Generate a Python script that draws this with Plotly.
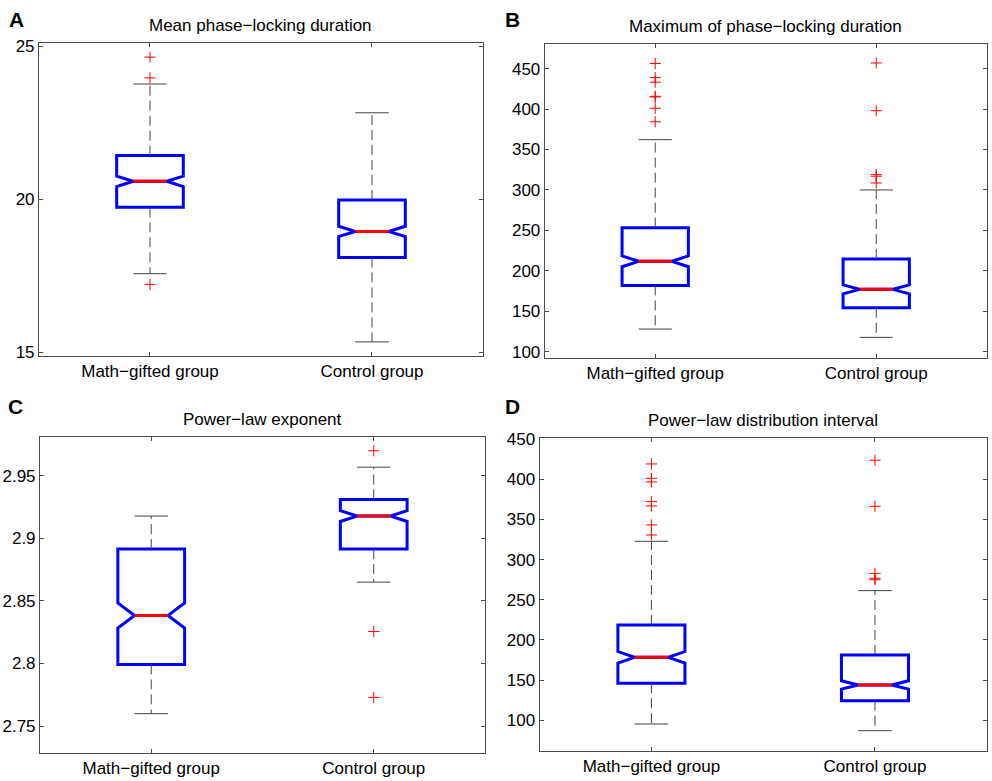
import plotly.graph_objects as go

# groups on the x axis
groups = ["Math−gifted group", "Control group"]
group_pos = [1, 2]

panel_letters = ["A", "B", "C", "D"]
panel_titles = ["Mean phase−locking duration", "Maximum of phase−locking duration",
                "Power−law exponent", "Power−law distribution interval"]

# box statistics per panel, [math-gifted, control]
q1 = [[19.74, 18.10], [182.0, 154.4], [2.7993, 2.8914], [146.1, 124.5]]
median = [[20.59, 18.95], [211.7, 177.1], [2.8384, 2.9178], [178.4, 144.0]]
q3 = [[21.43, 19.98], [253.4, 214.6], [2.8914, 2.9311], [218.7, 181.3]]
notch = [[0.17, 0.17], [6.6, 5.5], [0.0100, 0.0043], [7.2, 5.2]]
lower_whisker = [[17.57, 15.34], [128.0, 117.7], [2.7599, 2.8650], [95.4, 87.1]]
upper_whisker = [[23.77, 22.83], [362.2, 300.0], [2.9178, 2.9569], [322.8, 261.4]]

# outliers per panel, [math-gifted, control]
outliers = [
    [[24.65, 23.97, 17.22], []],
    [[456.3, 438.9, 433.3, 415.8, 415.0, 401.0, 384.3], [457.0, 398.0, 319.0, 317.0, 308.6]],
    [[], [2.9700, 2.8256, 2.7729]],
    [[419.1, 401.2, 396.7, 372.2, 366.8, 343.2, 330.7], [423.7, 366.4, 282.9, 276.8, 275.0]],
]

# y ticks per panel
y_ticks = [
    [15, 20, 25],
    [100, 150, 200, 250, 300, 350, 400, 450],
    [2.75, 2.8, 2.85, 2.9, 2.95],
    [100, 150, 200, 250, 300, 350, 400, 450],
]
y_ranges = [[14.88, 25.11], [92.2, 480.1], [2.7287, 2.9812], [62.2, 451.0]]

# axes placement (paper fractions)
x_domains = [[0.0393, 0.4869], [0.5491, 0.9947], [0.0403, 0.4889], [0.5440, 0.9947]]
y_domains = [[0.5442, 0.9449], [0.5416, 0.9433], [0.0362, 0.4408], [0.0388, 0.4388]]
letter_xy = [[0.007, 0.975], [0.507, 0.975], [0.006, 0.479], [0.507, 0.479]]

BOX_W = 0.3
HALF = BOX_W / 4
FRAME = "#4d4d4d"
FONT = "Liberation Sans, Arial, Helvetica, sans-serif"

fig = go.Figure()

for p in range(4):
    xa = "x" if p == 0 else "x%d" % (p + 1)
    ya = "y" if p == 0 else "y%d" % (p + 1)

    # notched boxes (whiskers drawn separately, MATLAB style)
    fig.add_trace(go.Box(
        x=group_pos, q1=q1[p], median=median[p], q3=q3[p],
        lowerfence=q1[p], upperfence=q3[p], notchspan=notch[p],
        notched=True, notchwidth=0.25, width=BOX_W, whiskerwidth=0,
        line=dict(color="#0000ff", width=3), fillcolor="rgba(0,0,0,0)",
        boxpoints=False, hoverinfo="skip", xaxis=xa, yaxis=ya, showlegend=False))

    # dashed whiskers + caps + red median
    wx, wy = [], []
    cx, cy = [], []
    mx, my = [], []
    for g in range(2):
        pos = group_pos[g]
        wx += [pos, pos, None, pos, pos, None]
        wy += [q3[p][g], upper_whisker[p][g], None, q1[p][g], lower_whisker[p][g], None]
        cx += [pos - HALF, pos + HALF, None, pos - HALF, pos + HALF, None]
        cy += [upper_whisker[p][g], upper_whisker[p][g], None,
               lower_whisker[p][g], lower_whisker[p][g], None]
        mx += [pos - HALF, pos + HALF, None]
        my += [median[p][g], median[p][g], None]
    fig.add_trace(go.Scatter(x=wx, y=wy, mode="lines", xaxis=xa, yaxis=ya,
                             line=dict(color="#444444", width=1, dash="10px,5px"),
                             hoverinfo="skip", showlegend=False))
    fig.add_trace(go.Scatter(x=cx, y=cy, mode="lines", xaxis=xa, yaxis=ya,
                             line=dict(color="#444444", width=1),
                             hoverinfo="skip", showlegend=False))
    fig.add_trace(go.Scatter(x=mx, y=my, mode="lines", xaxis=xa, yaxis=ya,
                             line=dict(color="#ff0000", width=3),
                             hoverinfo="skip", showlegend=False))

    # outliers
    ox, oy = [], []
    for g in range(2):
        ox += [group_pos[g]] * len(outliers[p][g])
        oy += outliers[p][g]
    fig.add_trace(go.Scatter(x=ox, y=oy, mode="markers", xaxis=xa, yaxis=ya,
                             marker=dict(symbol="cross-thin-open", size=8, color="#ff0000",
                                         line=dict(color="#ff0000", width=1)),
                             hoverinfo="skip", showlegend=False))

    axis_common = dict(showline=True, linecolor=FRAME, linewidth=1, mirror="ticks",
                       ticks="inside", ticklen=4, tickcolor=FRAME, showgrid=False,
                       zeroline=False, automargin=False,
                       tickfont=dict(family=FONT, size=17, color="black"))
    xkey = "xaxis" if p == 0 else "xaxis%d" % (p + 1)
    ykey = "yaxis" if p == 0 else "yaxis%d" % (p + 1)
    fig.update_layout(**{
        xkey: dict(domain=x_domains[p], range=[0.5, 2.5], anchor=ya,
                   tickmode="array", tickvals=group_pos, ticktext=groups,
                   **axis_common),
        ykey: dict(domain=y_domains[p], range=y_ranges[p], anchor=xa,
                   tickmode="array", tickvals=y_ticks[p],
                   ticktext=["%g" % v for v in y_ticks[p]], **axis_common),
    })

    fig.add_annotation(text=panel_titles[p], xref=xa + " domain", yref=ya + " domain",
                       x=0.5, y=1, yanchor="bottom", yshift=6, showarrow=False,
                       font=dict(family=FONT, size=17, color="black"))
    fig.add_annotation(text="<b>%s</b>" % panel_letters[p], xref="paper", yref="paper",
                       x=letter_xy[p][0], y=letter_xy[p][1], xanchor="left", yanchor="middle",
                       showarrow=False, font=dict(family=FONT, size=21, color="black"))

fig.update_layout(width=992, height=781, margin=dict(l=0, r=0, t=0, b=0),
                  paper_bgcolor="white", plot_bgcolor="white")

fig.write_html("out.html", config={"displayModeBar": False},
               post_script="document.body.style.margin='0';")
